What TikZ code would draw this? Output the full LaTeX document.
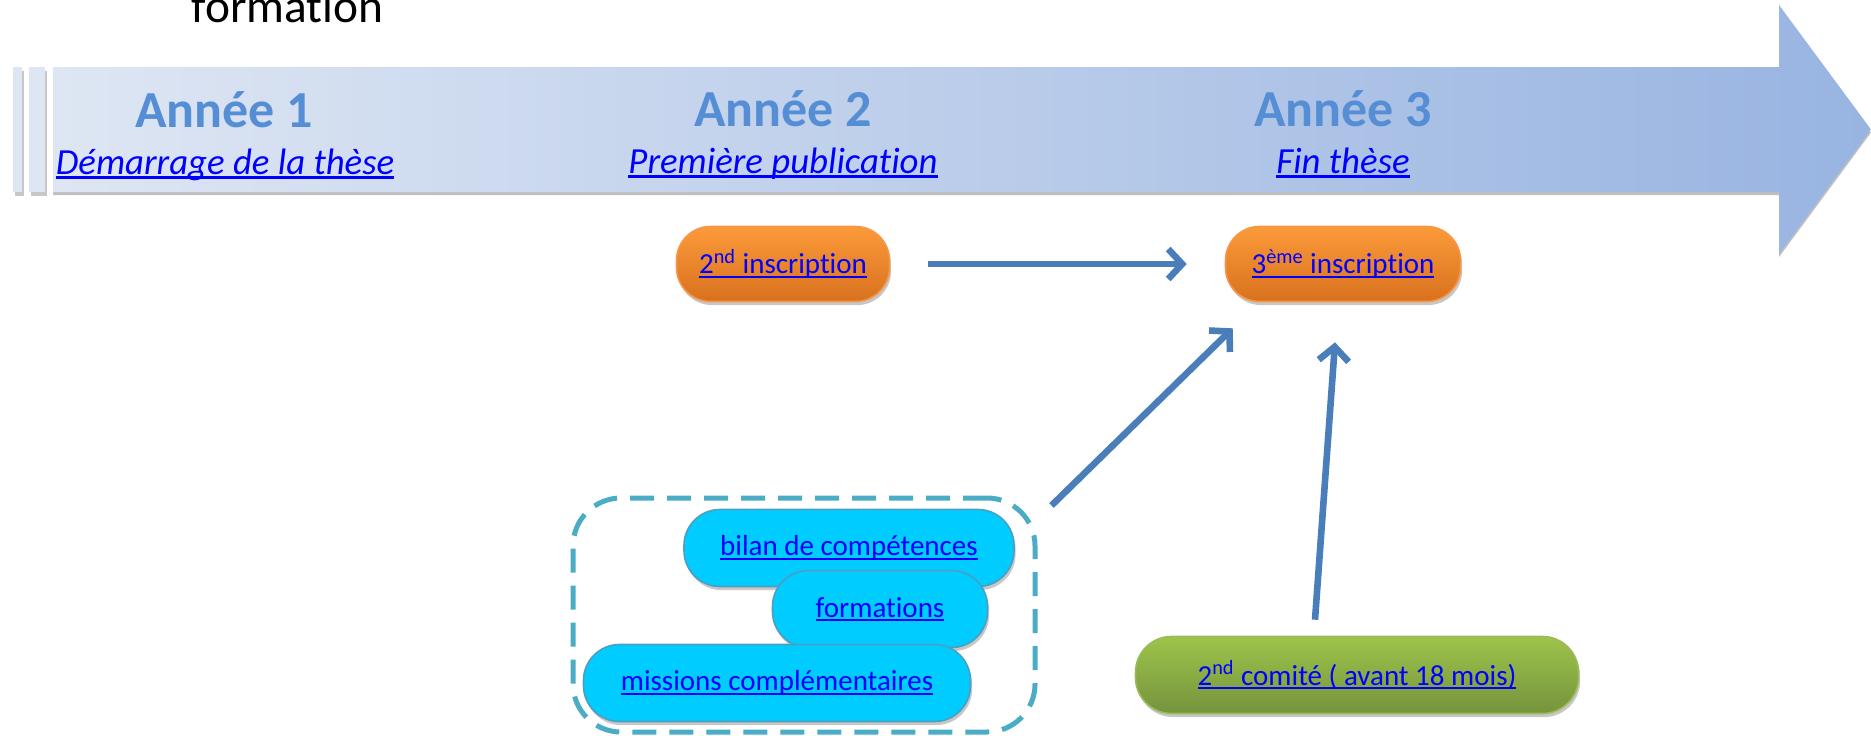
\documentclass[tikz,border=0pt]{standalone}
\usepackage{fontspec}
\setmainfont{Carlito}[Ligatures=NoCommon]
\usetikzlibrary{arrows.meta,shadows}
\definecolor{arrowblue}{HTML}{4A7EBB}
\definecolor{yearblue}{HTML}{558ED5}
\definecolor{linkblue}{HTML}{0000FF}
\definecolor{bandL}{HTML}{DEE6F3}
\definecolor{bandR}{HTML}{98B4E1}
\definecolor{orT}{HTML}{FB9A3A}
\definecolor{orB}{HTML}{D8711E}
\definecolor{orD}{HTML}{F79646}
\definecolor{cyF}{HTML}{00CCFF}
\definecolor{cyD}{HTML}{4A9FC2}
\definecolor{grT}{HTML}{9DC44B}
\definecolor{grB}{HTML}{76933C}
\definecolor{grD}{HTML}{9BBB59}
\definecolor{dashc}{HTML}{4BACC6}
\newsavebox\lnkbox
\newcommand\lnk[1]{\sbox\lnkbox{#1}\rlap{\rule[-0.13em]{\wd\lnkbox}{0.065em}}\usebox\lnkbox}
\tikzset{
  softshadow/.style={drop shadow={shadow xshift=0.8pt,shadow yshift=-1.8pt,opacity=0.22,fill=black}},
  nodetext/.style={font=\fontsize{14.5}{17}\selectfont, text=linkblue, inner sep=0pt},
  orangebox/.style={nodetext, rectangle, rounded corners=17pt, minimum height=37.5pt,
    top color=orT, bottom color=orB, draw=orD, line width=0.8pt, softshadow},
  cyanbox/.style={nodetext, rectangle, rounded corners=18pt, minimum height=38.5pt,
    fill=cyF, draw=cyD, line width=0.8pt, softshadow},
  greenbox/.style={nodetext, rectangle, rounded corners=18pt, minimum height=38.5pt,
    top color=grT, bottom color=grB, draw=grD, line width=0.8pt, softshadow},
  yearlabel/.style={anchor=base, font=\fontsize{26}{30}\selectfont\bfseries, text=yearblue, inner sep=0pt},
  sublabel/.style={anchor=base, font=\fontsize{18.4}{22}\selectfont\itshape, text=linkblue, inner sep=0pt},
  grpbox/.style={rectangle, rounded corners=24pt, draw=dashc, line width=2.5pt,
    dash pattern=on 12pt off 6.5pt, inner sep=0pt},
  arr/.style={draw=arrowblue, line width=3.3pt, -{Straight Barb[length=7pt,width=15pt]}},
}
\begin{document}
\begin{tikzpicture}[x=0.5pt,y=-0.5pt]
\useasboundingbox (0,0) rectangle (1871,735);
% title fragment
\node[anchor=base, font=\fontsize{23.7}{28}\selectfont, inner sep=0pt] (ftxt) at (287.5,22) {formation};
% left bars
\fill[bandL, softshadow] (13,67) rectangle (22,192);
\fill[bandL, softshadow] (29,67) rectangle (45,192);
% main arrow
\shade[left color=bandL, right color=bandR, drop shadow={shadow xshift=0pt,shadow yshift=-1.5pt,opacity=0.25,fill=black}]
  (53,67) -- (1779,67) -- (1779,5) -- (1871,129.5) -- (1779,254) -- (1779,192) -- (53,192) -- cycle;
% year labels
\node[yearlabel] (y1) at (224,127) {Année 1};
\node[sublabel] (s1) at (225,174) {\lnk{Démarrage de la thèse}};
\node[yearlabel] (y2) at (783,126) {Année 2};
\node[sublabel] (s2) at (783,173) {\lnk{Première publication}};
\node[yearlabel] (y3) at (1343,126) {Année 3};
\node[sublabel] (s3) at (1343,173) {\lnk{Fin thèse}};
% orange nodes
\node[orangebox, minimum width=106.5pt] (o1) at (783,264) {\lnk{2\textsuperscript{nd} inscription}};
\node[orangebox, minimum width=117.5pt] (o2) at (1343,264) {\lnk{3\textsuperscript{ème} inscription}};
% group box
\node[grpbox, minimum width=231pt, minimum height=117pt] (grp) at (804,615) {};
\node[cyanbox, minimum width=165pt] (bilan) at (849,548) {\lnk{bilan de compétences}};
\node[cyanbox, minimum width=107.5pt] (form) at (880,609) {\lnk{formations}};
\node[cyanbox, minimum width=193.5pt] (miss) at (777,683) {\lnk{missions complémentaires}};
% green node
\node[greenbox, minimum width=221.5pt] (comite) at (1357,675) {\lnk{2\textsuperscript{nd} comité ( avant 18 mois)}};
% connectors
\draw[arr, shorten <=19pt, shorten >=19pt] (o1.east) -- (o2.west);
\draw[arr] ([xshift=7pt,yshift=-5pt]grp.north east) -- ([xshift=4pt,yshift=-13pt]o2.south west);
\draw[arr] ([xshift=-21pt,yshift=8pt]comite.north) -- ([xshift=-4pt,yshift=-20pt]o2.south);
\end{tikzpicture}
\end{document}
